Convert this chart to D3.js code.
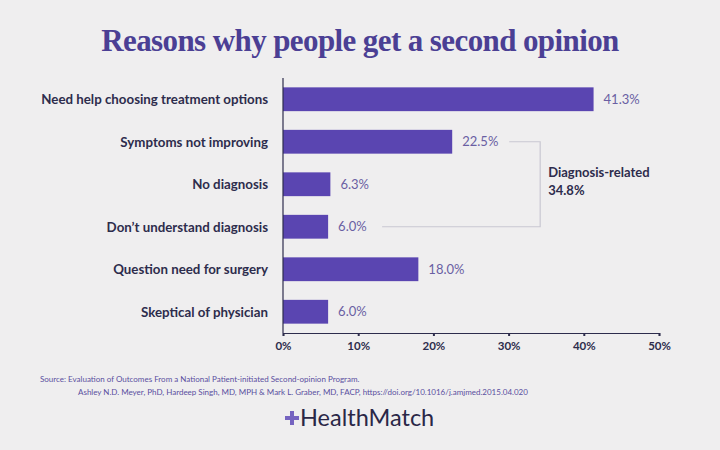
<!DOCTYPE html>
<html>
<head>
<meta charset="utf-8">
<script src="https://cdn.jsdelivr.net/npm/d3@7"></script>
<style>
  body { margin: 0; background: #efeeef; }
  svg { display: block; }
</style>
</head>
<body>
<script>
// data
var reasons = ["Need help choosing treatment options", "Symptoms not improving", "No diagnosis",
               "Don\u2019t understand diagnosis", "Question need for surgery", "Skeptical of physician"]
var shares = [41.3, 22.5, 6.3, 6.0, 18.0, 6.0]
var xTicks = [0, 10, 20, 30, 40, 50]
var groupName = "Diagnosis-related"
var groupTotal = 34.8
var groupFirst = 1, groupLast = 3

var screen = {width: 720, height: 450}
var margins = {top: 78, left: 283, right: 61, bottom: 117}
var width = screen.width - margins.left - margins.right
var height = screen.height - margins.top - margins.bottom

var xScale = d3.scaleLinear().domain([0, 50]).range([0, width])
var yScale = d3.scaleBand().domain(reasons).range([0, height]).paddingInner(0.44).paddingOuter(0.22)

var svg = d3.select("body").append("svg")
    .attr("width", screen.width)
    .attr("height", screen.height)

svg.append("rect").attr("width", screen.width).attr("height", screen.height).attr("fill", "#efeeef")

// title
svg.append("text")
    .attr("x", 360).attr("y", 51)
    .attr("text-anchor", "middle")
    .style("font-family", "'Liberation Serif', serif")
    .style("font-weight", "bold")
    .style("font-size", "31px")
    .style("letter-spacing", "-0.6px")
    .attr("fill", "#4b3f94")
    .text("Reasons why people get a second opinion")

var plot = svg.append("g").attr("transform", "translate(" + margins.left + "," + margins.top + ")")

// bars
plot.selectAll("rect.bar")
    .data(shares)
    .enter()
    .append("rect")
    .attr("class", "bar")
    .attr("x", 0)
    .attr("y", function(d, i) { return yScale(reasons[i]) })
    .attr("width", function(d) { return xScale(d) })
    .attr("height", yScale.bandwidth())
    .attr("fill", "#5a45b1")

// value labels
plot.selectAll("text.val")
    .data(shares)
    .enter()
    .append("text")
    .attr("class", "val")
    .attr("x", function(d) { return xScale(d) + 10 })
    .attr("y", function(d, i) { return yScale(reasons[i]) + yScale.bandwidth() / 2 })
    .attr("dy", "0.36em")
    .style("font-family", "Lato, sans-serif")
    .style("font-size", "13px")
    .attr("fill", "#6a5fa3")
    .text(function(d) { return d.toFixed(1) + "%" })

// category labels
plot.selectAll("text.cat")
    .data(reasons)
    .enter()
    .append("text")
    .attr("class", "cat")
    .attr("x", -15)
    .attr("y", function(d) { return yScale(d) + yScale.bandwidth() / 2 })
    .attr("dy", "0.36em")
    .attr("text-anchor", "end")
    .style("font-family", "Lato, sans-serif")
    .style("font-weight", "bold")
    .style("font-size", "13.3px")
    .attr("fill", "#2d2c4c")
    .text(function(d) { return d })

// left axis line
plot.append("line")
    .attr("x1", 0).attr("x2", 0)
    .attr("y1", 0).attr("y2", height)
    .attr("stroke", "#2d2c4c").attr("stroke-width", 1.2)

// x axis
var xAxis = d3.axisBottom(xScale)
    .tickValues(xTicks)
    .tickSize(3)
    .tickPadding(6)
    .tickFormat(function(d) { return d + "%" })

var gx = plot.append("g")
    .attr("transform", "translate(0," + height + ")")
    .call(xAxis)
gx.select(".domain").attr("stroke", "#2d2c4c").attr("stroke-width", 1.2)
gx.selectAll(".tick line").attr("stroke", "#2d2c4c").attr("stroke-width", 2)
gx.selectAll(".tick text")
    .style("font-family", "Lato, sans-serif")
    .style("font-weight", "bold")
    .style("font-size", "11.5px")
    .attr("fill", "#2d2c4c")

// bracket for diagnosis-related group
var bx = xScale(34.2)
var yTop = yScale(reasons[groupFirst]) + yScale.bandwidth() / 2
var yBot = yScale(reasons[groupLast]) + yScale.bandwidth() / 2
var topStart = xScale(shares[groupFirst]) + 57
var botStart = xScale(shares[groupLast]) + 54
plot.append("path")
    .attr("d", "M" + topStart + "," + yTop + "H" + bx + "V" + yBot + "H" + botStart)
    .attr("fill", "none")
    .attr("stroke", "#c9c7d2")
    .attr("stroke-width", 1.2)

var gl = plot.append("g").attr("transform", "translate(" + (bx + 8) + "," + ((yTop + yBot) / 2) + ")")
gl.append("text")
    .attr("y", -7)
    .style("font-family", "Lato, sans-serif")
    .style("font-weight", "bold")
    .style("font-size", "13px")
    .attr("fill", "#2d2c4c")
    .text(groupName)
gl.append("text")
    .attr("y", 11)
    .style("font-family", "Lato, sans-serif")
    .style("font-weight", "bold")
    .style("font-size", "13px")
    .attr("fill", "#2d2c4c")
    .text(groupTotal.toFixed(1) + "%")

// source
svg.append("text")
    .attr("x", 40).attr("y", 382)
    .style("font-family", "Lato, sans-serif")
    .style("font-size", "8px")
    .attr("fill", "#5a4fa0")
    .text("Source: Evaluation of Outcomes From a National Patient-initiated Second-opinion Program.")
svg.append("text")
    .attr("x", 78).attr("y", 395)
    .style("font-family", "Lato, sans-serif")
    .style("font-size", "8px")
    .attr("fill", "#5a4fa0")
    .text("Ashley N.D. Meyer, PhD, Hardeep Singh, MD, MPH & Mark L. Graber, MD, FACP, https://doi.org/10.1016/j.amjmed.2015.04.020")

// logo
var logo = svg.append("g").attr("transform", "translate(292,418)")
logo.append("path")
    .attr("d", "M-2,-7H2V-2H7V2H2V7H-2V2H-7V-2H-2Z")
    .attr("fill", "#7563c0")
logo.append("text")
    .attr("x", 8).attr("y", 8)
    .style("font-family", "Lato, sans-serif")
    .style("font-size", "23.5px")
    .attr("fill", "#2a2747")
    .text("HealthMatch")
</script>
</body>
</html>
